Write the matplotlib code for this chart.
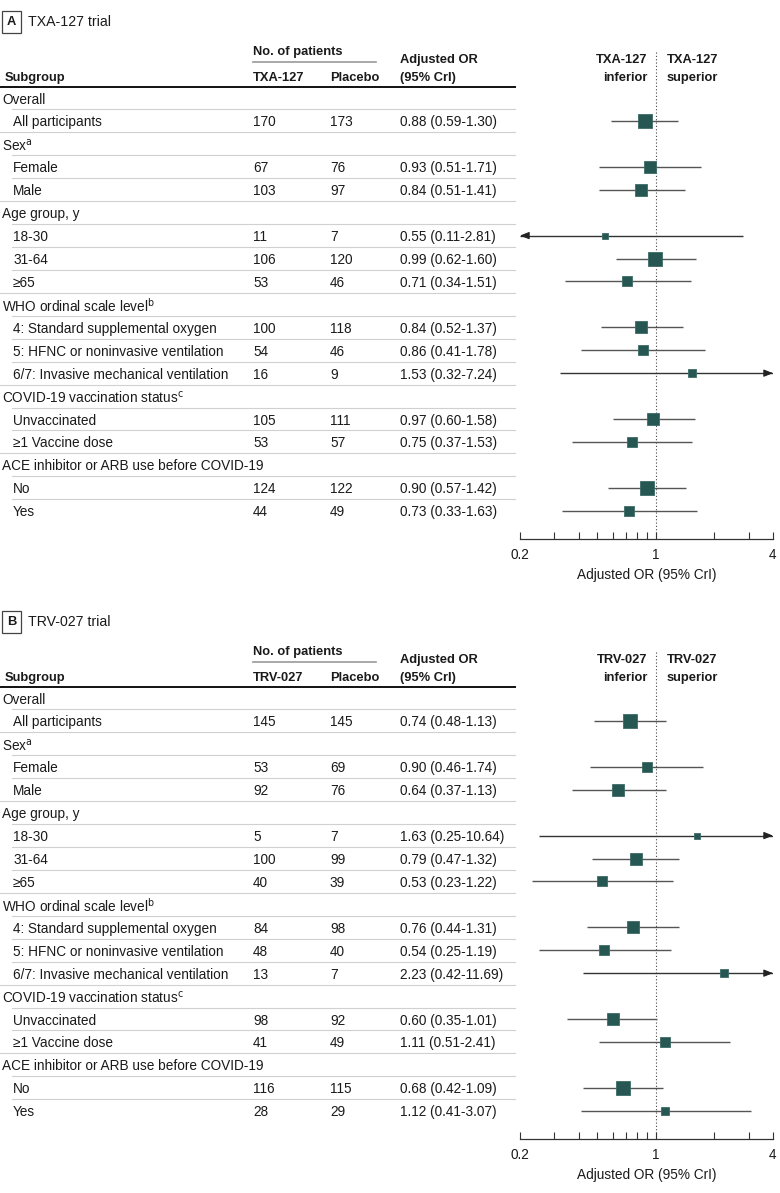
import matplotlib
matplotlib.use('Agg')
import matplotlib.pyplot as plt
import numpy as np

plt.rcParams['font.family'] = ['Liberation Sans Narrow', 'Liberation Sans', 'DejaVu Sans']
plt.rcParams['mathtext.fontset'] = 'custom'
plt.rcParams['mathtext.rm'] = 'Liberation Sans Narrow'
plt.rcParams['mathtext.it'] = 'Liberation Sans Narrow'

# rows shared by both panels (None = group header row)
subgroups = ['Overall', 'All participants', 'Sex$^{\\mathrm{a}}$', 'Female', 'Male',
             'Age group, y', '18-30', '31-64', '≥65',
             'WHO ordinal scale level$^{\\mathrm{b}}$', '4: Standard supplemental oxygen',
             '5: HFNC or noninvasive ventilation', '6/7: Invasive mechanical ventilation',
             'COVID-19 vaccination status$^{\\mathrm{c}}$', 'Unvaccinated', '≥1 Vaccine dose',
             'ACE inhibitor or ARB use before COVID-19', 'No', 'Yes']
is_header = [True, False, True, False, False, True, False, False, False,
             True, False, False, False, True, False, False, True, False, False]

# panel A: TXA-127
txa_n = [None, 170, None, 67, 103, None, 11, 106, 53, None, 100, 54, 16, None, 105, 53, None, 124, 44]
txa_placebo_n = [None, 173, None, 76, 97, None, 7, 120, 46, None, 118, 46, 9, None, 111, 57, None, 122, 49]
txa_or = [None, 0.88, None, 0.93, 0.84, None, 0.55, 0.99, 0.71, None, 0.84, 0.86, 1.53, None, 0.97, 0.75, None, 0.90, 0.73]
txa_lo = [None, 0.59, None, 0.51, 0.51, None, 0.11, 0.62, 0.34, None, 0.52, 0.41, 0.32, None, 0.60, 0.37, None, 0.57, 0.33]
txa_hi = [None, 1.30, None, 1.71, 1.41, None, 2.81, 1.60, 1.51, None, 1.37, 1.78, 7.24, None, 1.58, 1.53, None, 1.42, 1.63]

# panel B: TRV-027
trv_n = [None, 145, None, 53, 92, None, 5, 100, 40, None, 84, 48, 13, None, 98, 41, None, 116, 28]
trv_placebo_n = [None, 145, None, 69, 76, None, 7, 99, 39, None, 98, 40, 7, None, 92, 49, None, 115, 29]
trv_or = [None, 0.74, None, 0.90, 0.64, None, 1.63, 0.79, 0.53, None, 0.76, 0.54, 2.23, None, 0.60, 1.11, None, 0.68, 1.12]
trv_lo = [None, 0.48, None, 0.46, 0.37, None, 0.25, 0.47, 0.23, None, 0.44, 0.25, 0.42, None, 0.35, 0.51, None, 0.42, 0.41]
trv_hi = [None, 1.13, None, 1.74, 1.13, None, 10.64, 1.32, 1.22, None, 1.31, 1.19, 11.69, None, 1.01, 2.41, None, 1.09, 3.07]

x_ticks = [0.2, 1, 4]
x_minor = [0.3, 0.4, 0.5, 0.6, 0.7, 0.8, 0.9, 2, 3]

W, H = 780, 1193
DY = 22.93
TXT = '#1a1a1a'
SQ = '#275753'
LN = '#555555'
FS = 9.8
FB = 9.3

fig = plt.figure(figsize=(W / 100, H / 100), dpi=100)


def draw_panel(row0, letter, drug, n_trt, n_pl, ors, los, his):
    top_row, bot_row = -2.6, 19.24
    y_top = row0 + top_row * DY
    y_bot = row0 + bot_row * DY
    h = (y_bot - y_top) / H
    b = 1 - y_bot / H

    ax_t = fig.add_axes([0, b, 1, h])
    ax_t.set_xlim(0, W)
    ax_t.set_ylim(bot_row, top_row)
    ax_t.axis('off')

    ax_f = fig.add_axes([520 / W, b, (773 - 520) / W, h])
    ax_f.set_xscale('log')
    ax_f.set_xlim(0.2, 4)
    ax_f.set_ylim(bot_row, top_row)
    ax_f.patch.set_alpha(0)
    for s in ['top', 'left', 'right']:
        ax_f.spines[s].set_visible(False)
    ax_f.spines['bottom'].set_color('#333333')
    ax_f.spines['bottom'].set_linewidth(0.9)
    ax_f.set_yticks([])
    ax_f.set_xticks(x_ticks)
    ax_f.set_xticklabels(['0.2', '1', '4'])
    ax_f.set_xticks(x_minor, minor=True)
    ax_f.tick_params(axis='x', which='both', direction='in', length=5, width=0.8,
                     color='#333333', labelsize=FS, labelcolor=TXT, pad=6)
    ax_f.set_xlabel('Adjusted OR (95% CrI)', fontsize=FS, color=TXT, labelpad=5)

    # panel label
    title_row = (22 - 98) / DY
    ax_t.text(11.5, title_row, letter, ha='center', va='center',
              fontsize=FB, fontweight='bold', color=TXT,
              bbox=dict(boxstyle='square,pad=0.35', fc='white', ec='#444444', lw=0.9))
    ax_t.text(28, title_row, drug + ' trial', ha='left', va='center', fontsize=FS + 0.4, color=TXT)

    # column headers
    hdr = dict(va='center_baseline', fontsize=FB, fontweight='bold', color=TXT)
    ax_t.text(253, -2.09, 'No. of patients', ha='left', **hdr)
    ax_t.plot([253, 376], [-1.57, -1.57], color='#999999', lw=1.2)
    ax_t.text(5, -0.92, 'Subgroup', ha='left', **hdr)
    ax_t.text(253, -0.92, drug, ha='left', **hdr)
    ax_t.text(330, -0.92, 'Placebo', ha='left', **hdr)
    ax_t.text(400, -1.74, 'Adjusted OR', ha='left', **hdr)
    ax_t.text(400, -0.92, '(95% CrI)', ha='left', **hdr)
    ax_t.text(647, -1.74, drug, ha='right', **hdr)
    ax_t.text(647, -0.92, 'inferior', ha='right', **hdr)
    ax_t.text(667, -1.74, drug, ha='left', **hdr)
    ax_t.text(667, -0.92, 'superior', ha='left', **hdr)
    ax_t.plot([0, 515], [-0.46, -0.46], color='#111111', lw=1.4)

    cell = dict(va='center_baseline', fontsize=FS, color=TXT)
    n_rows = len(subgroups)
    for i in range(n_rows):
        if is_header[i]:
            ax_t.text(2, i, subgroups[i], ha='left', **cell)
        else:
            ax_t.text(13, i, subgroups[i], ha='left', **cell)
            ax_t.text(253, i, str(n_trt[i]), ha='left', **cell)
            ax_t.text(330, i, str(n_pl[i]), ha='left', **cell)
            ax_t.text(400, i, '%.2f (%.2f-%.2f)' % (ors[i], los[i], his[i]), ha='left', **cell)
        if i < n_rows - 1:
            x0 = 0 if is_header[i + 1] else 12
            ax_t.plot([x0, 515], [i + 0.5, i + 0.5], color='#d0d0d0', lw=0.8)

    # reference line
    ax_f.plot([1, 1], [-2.0, bot_row], color='#444444', ls=(0, (1, 2)), lw=0.8, zorder=1)

    # estimates
    for i in range(n_rows):
        if is_header[i]:
            continue
        lo = max(los[i], 0.2)
        hi = min(his[i], 4)
        clipped = los[i] < 0.2 or his[i] > 4
        ax_f.plot([lo, hi], [i, i], color='#333333' if clipped else LN, lw=1.0, zorder=2,
                  solid_capstyle='butt')
        head = dict(arrowstyle='-|>,head_length=0.55,head_width=0.22',
                    color='#222222', lw=0.8, shrinkA=0, shrinkB=0)
        if los[i] < 0.2:
            ax_f.annotate('', xy=(0.2, i), xytext=(0.215, i), arrowprops=head, zorder=2)
        if his[i] > 4:
            ax_f.annotate('', xy=(4, i), xytext=(3.7, i), arrowprops=head, zorder=2)
        total = n_trt[i] + n_pl[i]
        side_px = 4.6 + 0.56 * np.sqrt(total)
        ms = side_px * 72 / 100
        ax_f.plot(ors[i], i, marker='s', ms=ms, color=SQ, mec='#3c6b67', mew=0.6, zorder=3)


draw_panel(98, 'A', 'TXA-127', txa_n, txa_placebo_n, txa_or, txa_lo, txa_hi)
draw_panel(698, 'B', 'TRV-027', trv_n, trv_placebo_n, trv_or, trv_lo, trv_hi)

fig.savefig('out.png', dpi=100)
